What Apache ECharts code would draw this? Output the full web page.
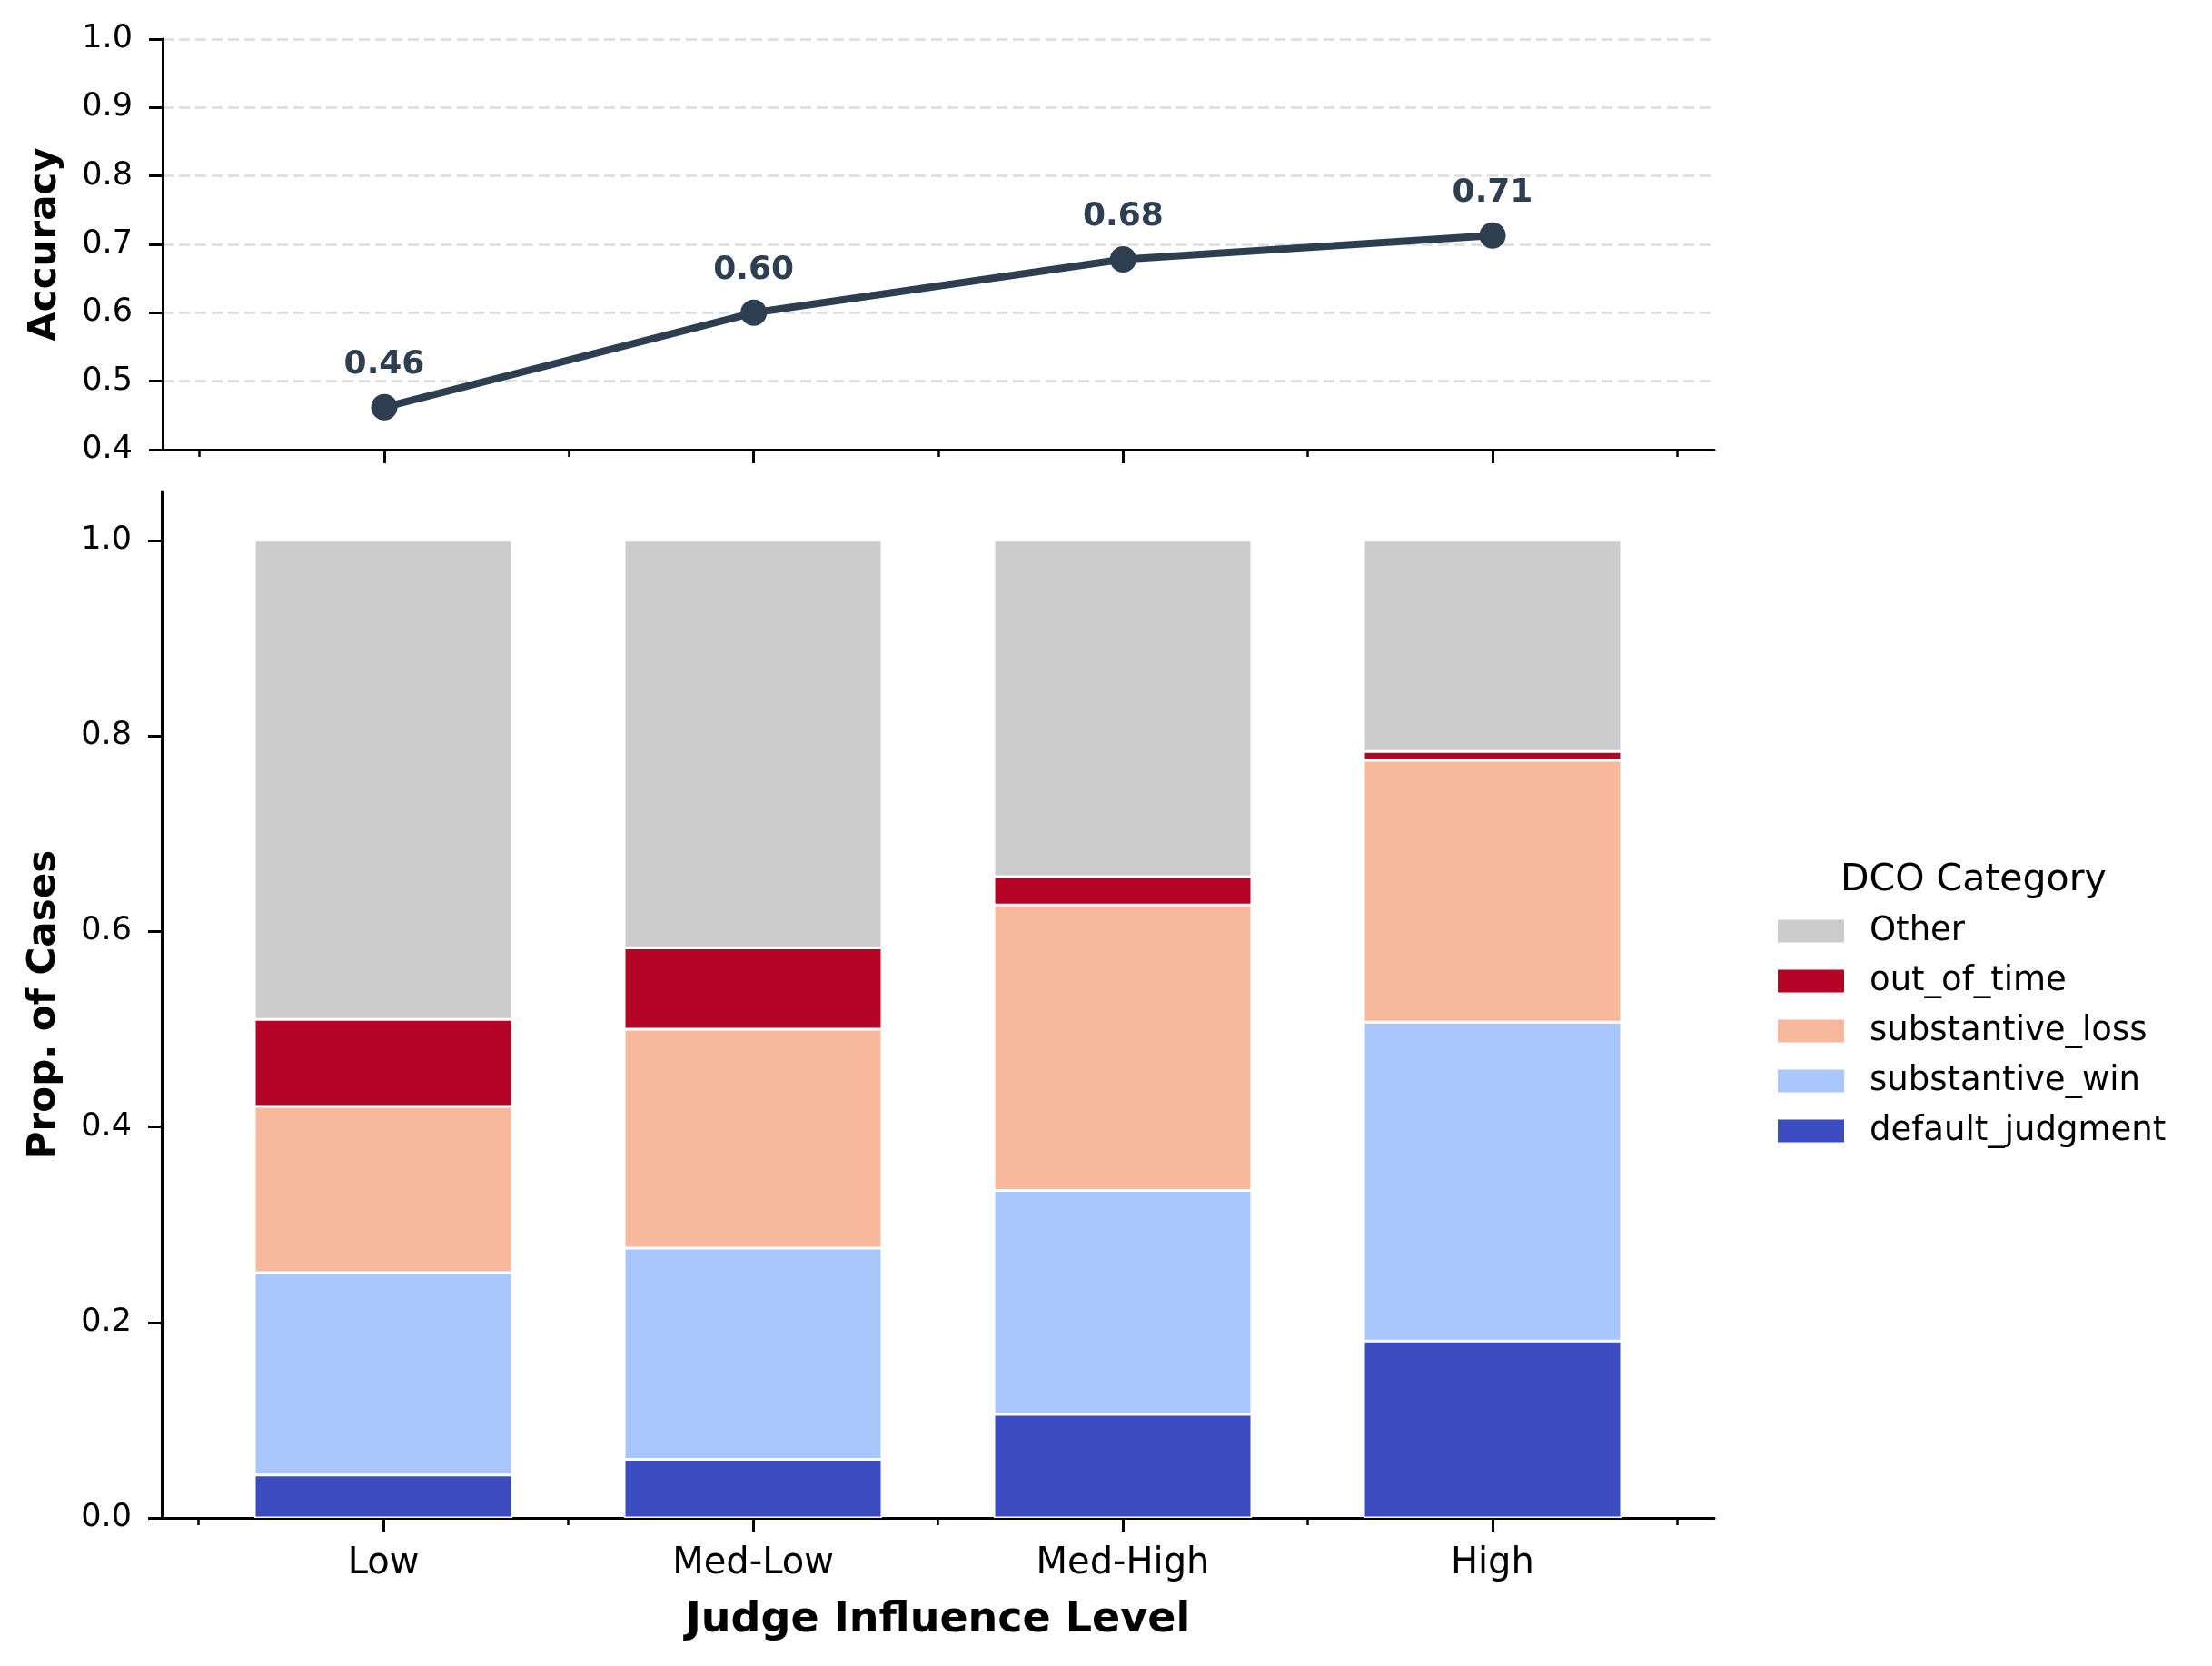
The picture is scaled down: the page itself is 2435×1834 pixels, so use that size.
<!DOCTYPE html>
<html>
<head>
<meta charset="utf-8">
<script src="https://cdn.jsdelivr.net/npm/echarts@6/dist/echarts.min.js"></script>
<style>
  html, body { margin: 0; padding: 0; background: #fff; }
  #chart { width: 2435px; height: 1834px; }
</style>
</head>
<body>
<div id="chart"></div>
<script>
const categories = ["Low", "Med-Low", "Med-High", "High"];
const accuracy = [0.462, 0.600, 0.678, 0.713];

// stacked proportions, bottom to top
const defaultJudgment = [0.044, 0.060, 0.106, 0.181];
const substantiveWin = [0.207, 0.216, 0.229, 0.326];
const substantiveLoss = [0.170, 0.224, 0.292, 0.268];
const outOfTime = [0.089, 0.083, 0.029, 0.009];
const other = [0.490, 0.417, 0.344, 0.216];

const propTicks = [0, 0.2, 0.4, 0.6, 0.8, 1.0];
const majorX = [0, 1, 2, 3];
const minorX = [-0.5, 0.5, 1.5, 2.5, 3.5];

const FONT = "DejaVu Sans";
const INK = "#2c3e50";

const stackSeries = [
  { name: "default_judgment", data: defaultJudgment, color: "#3b4cc0" },
  { name: "substantive_win", data: substantiveWin, color: "#aac7fd" },
  { name: "substantive_loss", data: substantiveLoss, color: "#f7b89c" },
  { name: "out_of_time", data: outOfTime, color: "#b40426" },
  { name: "Other", data: other, color: "#cccccc" },
];

// visible x axes: value scale -0.6..3.6 like matplotlib's xlim
function xAxisCfg(grid, ticks, len, withLine, withLabels) {
  return {
    type: "value",
    gridIndex: grid,
    min: -0.6,
    max: 3.6,
    position: "bottom",
    axisLine: { show: withLine, onZero: false, lineStyle: { color: "#000", width: 3 } },
    axisTick: { show: true, customValues: ticks, length: len, lineStyle: { color: "#000", width: withLine ? 3 : 2.5 } },
    axisLabel: {
      show: withLabels,
      customValues: majorX,
      formatter: (v) => categories[Math.round(v)] || "",
      fontFamily: FONT,
      fontSize: 40,
      color: "#000",
      margin: 31,
    },
    splitLine: { show: false },
  };
}

const option = {
  backgroundColor: "#fff",
  animation: false,
  textStyle: { fontFamily: FONT },
  grid: [
    { left: 179, top: 43, width: 1708, height: 452 },
    { left: 178, top: 541, width: 1709, height: 1130 },
    // hidden grid holding the stacked bars, bands line up with the value axis
    { left: 218.5, top: 541, width: 1628, height: 1130 },
  ],
  xAxis: [
    xAxisCfg(0, majorX, 15, true, false),
    xAxisCfg(0, minorX, 8, false, false),
    Object.assign(xAxisCfg(1, majorX, 15, true, true), {
      name: "Judge Influence Level",
      nameLocation: "middle",
      nameGap: 90,
      nameTextStyle: { fontFamily: FONT, fontSize: 46, fontWeight: "bold", color: "#000" },
    }),
    xAxisCfg(1, minorX, 8, false, false),
    { type: "category", gridIndex: 2, data: categories, show: false },
  ],
  yAxis: [
    {
      type: "value",
      gridIndex: 0,
      min: 0.4,
      max: 1.0,
      interval: 0.1,
      name: "Accuracy",
      nameLocation: "middle",
      nameGap: 108,
      nameTextStyle: { fontFamily: FONT, fontSize: 42, fontWeight: "bold", color: "#000" },
      axisLine: { show: true, onZero: false, lineStyle: { color: "#000", width: 3 } },
      axisTick: { show: true, length: 15, lineStyle: { color: "#000", width: 3 } },
      axisLabel: { fontFamily: FONT, fontSize: 35, color: "#000", margin: 33, formatter: (v) => v.toFixed(1) },
      splitLine: { show: true, lineStyle: { color: "#dddddd", width: 2.5, type: [12, 6] } },
    },
    {
      type: "value",
      gridIndex: 1,
      min: 0,
      max: 1.05,
      name: "Prop. of Cases",
      nameLocation: "middle",
      nameGap: 108,
      nameTextStyle: { fontFamily: FONT, fontSize: 42, fontWeight: "bold", color: "#000" },
      axisLine: { show: true, onZero: false, lineStyle: { color: "#000", width: 3 } },
      axisTick: { show: true, customValues: propTicks, length: 15, lineStyle: { color: "#000", width: 3 } },
      axisLabel: { customValues: propTicks, fontFamily: FONT, fontSize: 35, color: "#000", margin: 33, formatter: (v) => v.toFixed(1) },
      splitLine: { show: false },
    },
    { type: "value", gridIndex: 2, min: 0, max: 1.05, show: false, splitLine: { show: false } },
  ],
  legend: {
    orient: "vertical",
    left: 1952,
    top: 1000,
    data: ["Other", "out_of_time", "substantive_loss", "substantive_win", "default_judgment"],
    icon: "rect",
    itemWidth: 73,
    itemHeight: 25,
    itemGap: 15,
    selectedMode: false,
    itemStyle: { borderWidth: 0 },
    textStyle: { fontFamily: FONT, fontSize: 37, color: "#000", lineHeight: 40, padding: [0, 0, 0, 23] },
  },
  graphic: [
    {
      type: "text",
      left: 2026,
      top: 949,
      style: { text: "DCO Category", fontFamily: FONT, fontSize: 41, fill: "#000" },
    },
  ],
  series: [
    {
      name: "Accuracy",
      type: "line",
      xAxisIndex: 0,
      yAxisIndex: 0,
      data: accuracy.map((v, i) => [i, v]),
      symbol: "circle",
      symbolSize: 29,
      itemStyle: { color: INK },
      lineStyle: { color: INK, width: 8 },
      label: {
        show: true,
        position: "top",
        distance: 14,
        formatter: (p) => p.value[1].toFixed(2),
        fontFamily: FONT,
        fontSize: 36,
        fontWeight: "bold",
        color: INK,
      },
      z: 5,
    },
    ...stackSeries.map((s) => ({
      name: s.name,
      type: "bar",
      stack: "dco",
      xAxisIndex: 4,
      yAxisIndex: 2,
      barWidth: 284,
      data: s.data,
      itemStyle: { color: s.color, borderColor: "#fff", borderWidth: 1.5 },
    })),
  ],
};

const chart = echarts.init(document.getElementById("chart"));
chart.setOption(option);
</script>
</body>
</html>
